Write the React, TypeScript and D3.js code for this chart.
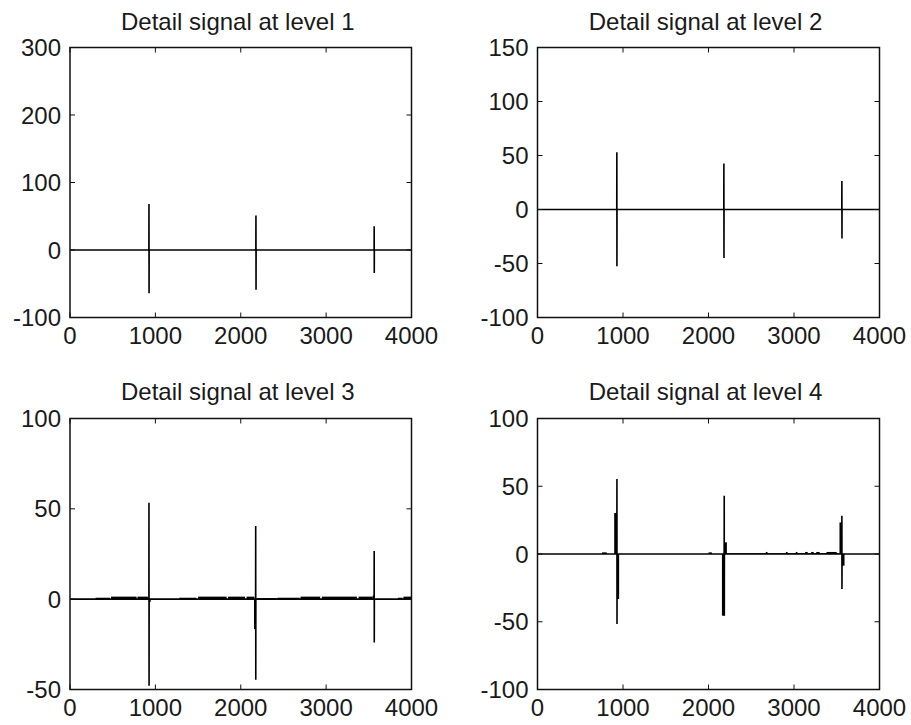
import React from "react";
import * as d3 from "d3";

// Sample index axis shared by every panel
const X_DOMAIN: [number, number] = [0, 4000];
const X_TICKS = [0, 1000, 2000, 3000, 4000];

// Panel titles
const TITLES = [
  "Detail signal at level 1",
  "Detail signal at level 2",
  "Detail signal at level 3",
  "Detail signal at level 4",
];

// Y ranges and tick labels per level
const level1Domain: [number, number] = [-100, 300];
const level1Ticks = [-100, 0, 100, 200, 300];
const level2Domain: [number, number] = [-100, 150];
const level2Ticks = [-100, -50, 0, 50, 100, 150];
const level3Domain: [number, number] = [-50, 100];
const level3Ticks = [-50, 0, 50, 100];
const level4Domain: [number, number] = [-100, 100];
const level4Ticks = [-100, -50, 0, 50, 100];

// Isolated spikes: [sample index, peak value, trough value]
const level1Spikes: [number, number, number][] = [
  [925, 68, -64],
  [2178, 51, -59],
  [3563, 35, -34],
];
const level2Spikes: [number, number, number][] = [
  [928, 53, -52.6],
  [2180, 42.5, -45],
  [3560, 26.5, -26.8],
];
const level3Spikes: [number, number, number][] = [
  [925, 53.3, -47.9],
  [2175, 40.5, -44.6],
  [3563, 26.7, -24],
];
const level4Spikes: [number, number, number][] = [
  [929, 55.3, -51.7],
  [2184, 43, -45.5],
  [3560, 28.3, -25.8],
];

// Dense oscillation envelopes: [start index, end index, low, high]
const level1Bursts: [number, number, number, number][] = [];
const level2Bursts: [number, number, number, number][] = [];
const level3Bursts: [number, number, number, number][] = [
  [300, 470, 0, 0.8],
  [480, 780, 0, 1.4],
  [790, 912, 0, 1.4],
  [926, 945, -1.5, 0],
  [1280, 1480, 0, 0.8],
  [1500, 1835, 0, 1.4],
  [1850, 2050, 0, 1.4],
  [2068, 2160, 0, 1.4],
  [2155, 2176, -16.6, 0],
  [2186, 2420, 0, 0.6],
  [2430, 2690, 0, 0.8],
  [2700, 2930, 0, 1.4],
  [2950, 3360, 0, 1.4],
  [3380, 3545, 0, 1.4],
  [3545, 3562, 0, 2.0],
  [3840, 3895, 0, 0.8],
  [3905, 4000, 0, 1.4],
];
const level4Bursts: [number, number, number, number][] = [
  [755, 810, 0, 1.2],
  [897, 929, 0, 30.3],
  [929, 955, -33.2, 0],
  [2000, 2040, 0, 1.2],
  [2157, 2187, -45.5, 0],
  [2187, 2215, 0, 8.6],
  [2215, 3530, 0, 0.6],
  [2670, 2690, 0, 1.5],
  [2905, 2925, 0, 1.5],
  [3020, 3040, 0, 1.5],
  [3130, 3160, 0, 1.5],
  [3200, 3230, 0, 1.5],
  [3260, 3300, 0, 1.5],
  [3380, 3500, 0, 1.5],
  [3532, 3560, 0, 23.3],
  [3560, 3591, -8.6, 0],
];

const W = 911;
const H = 725;
const FONT = "'Liberation Sans', Arial, Helvetica, sans-serif";

// Subplot frames (pixel boxes of the 2x2 grid)
const COLS = [
  { left: 70, right: 411.5 },
  { left: 537.5, right: 879.5 },
];
const ROWS = [
  { top: 47.5, bottom: 317.5, titleY: 30 },
  { top: 418.5, bottom: 689.5, titleY: 400 },
];

const PANELS = [
  { title: TITLES[0], domain: level1Domain, ticks: level1Ticks, spikes: level1Spikes, bursts: level1Bursts, col: 0, row: 0 },
  { title: TITLES[1], domain: level2Domain, ticks: level2Ticks, spikes: level2Spikes, bursts: level2Bursts, col: 1, row: 0 },
  { title: TITLES[2], domain: level3Domain, ticks: level3Ticks, spikes: level3Spikes, bursts: level3Bursts, col: 0, row: 1 },
  { title: TITLES[3], domain: level4Domain, ticks: level4Ticks, spikes: level4Spikes, bursts: level4Bursts, col: 1, row: 1 },
];

function Panel({ p }: { p: (typeof PANELS)[number] }) {
  const { left, right } = COLS[p.col];
  const { top, bottom, titleY } = ROWS[p.row];
  const x = d3.scaleLinear().domain(X_DOMAIN).range([left, right]);
  const y = d3.scaleLinear().domain(p.domain).range([bottom, top]);

  // Signal trace: flat baseline broken by each spike's up/down excursion
  const pts: [number, number][] = [[X_DOMAIN[0], 0]];
  p.spikes.forEach(([i, hi, lo]) => {
    pts.push([i - 1, 0], [i, hi], [i + 1, lo], [i + 2, 0]);
  });
  pts.push([X_DOMAIN[1], 0]);
  const line = d3
    .line<[number, number]>()
    .x((d) => x(d[0]))
    .y((d) => y(d[1]));

  const tickLen = 5;
  const cx = (left + right) / 2 - 3;

  return (
    <g>
      <text x={cx} y={titleY} textAnchor="middle" fontFamily={FONT} fontSize={24} fill="#1a1a1a">
        {p.title}
      </text>

      {/* dense oscillation envelopes */}
      {p.bursts.map(([s, e, lo, hi], k) => (
        <rect
          key={k}
          x={x(s)}
          width={Math.max(x(e) - x(s), 1)}
          y={y(hi)}
          height={Math.max(y(lo) - y(hi), 0.8)}
          fill="#000"
        />
      ))}

      <path d={line(pts) || ""} fill="none" stroke="#000" strokeWidth={1.6} />

      {/* axis box */}
      <rect x={left} y={top} width={right - left} height={bottom - top} fill="none" stroke="#111" strokeWidth={1.5} />

      {/* mirrored inward ticks */}
      {X_TICKS.map((t) => (
        <g key={"x" + t}>
          <line x1={x(t)} x2={x(t)} y1={bottom} y2={bottom - tickLen} stroke="#111" strokeWidth={1} />
          <line x1={x(t)} x2={x(t)} y1={top} y2={top + tickLen} stroke="#111" strokeWidth={1} />
          <text x={x(t)} y={bottom + 26.5} textAnchor="middle" fontFamily={FONT} fontSize={24} fill="#1a1a1a">
            {t}
          </text>
        </g>
      ))}
      {p.ticks.map((t) => (
        <g key={"y" + t}>
          <line x1={left} x2={left + tickLen} y1={y(t)} y2={y(t)} stroke="#111" strokeWidth={1} />
          <line x1={right} x2={right - tickLen} y1={y(t)} y2={y(t)} stroke="#111" strokeWidth={1} />
          <text x={left - 9} y={y(t)} dy="0.36em" textAnchor="end" fontFamily={FONT} fontSize={24} fill="#1a1a1a">
            {t}
          </text>
        </g>
      ))}
    </g>
  );
}

export default function App() {
  return (
    <svg
      width={W}
      height={H}
      viewBox={`0 0 ${W} ${H}`}
      style={{ position: "absolute", left: 0, top: 0, background: "#fff" }}
    >
      <rect width={W} height={H} fill="#fff" />
      {PANELS.map((p, k) => (
        <Panel key={k} p={p} />
      ))}
    </svg>
  );
}
